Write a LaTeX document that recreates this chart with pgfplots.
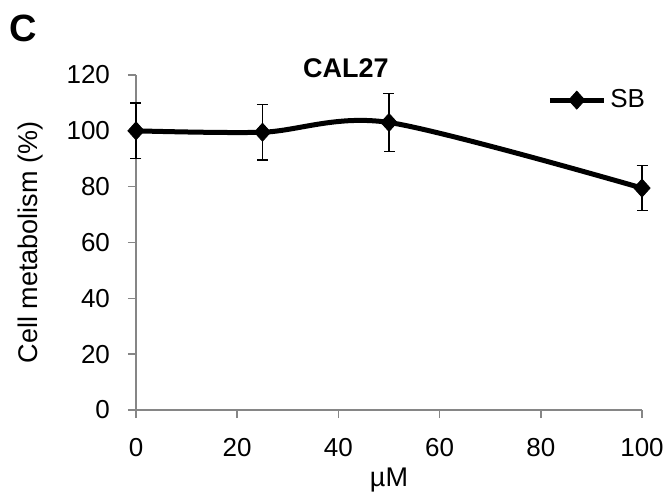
\documentclass[border=0pt]{standalone}
\usepackage{fontspec}
\setmainfont{Liberation Sans}
\usepackage{pgfplots}
\pgfplotsset{compat=1.18}
\definecolor{axgray}{HTML}{868686}

\begin{document}
\begin{tikzpicture}
  \useasboundingbox (-68pt,-44.5pt) rectangle (267pt,205pt);
  \begin{axis}[
    at={(0,0)}, anchor=south west,
    scale only axis,
    width=253pt, height=167.5pt,
    xmin=0, xmax=100, ymin=0, ymax=120,
    xtick={0,20,...,100}, ytick={0,20,...,120},
    axis x line*=bottom, axis y line*=left,
    axis line style={axgray, line width=0.8pt},
    tick style={axgray, line width=0.8pt},
    tick align=outside, major tick length=4pt,
    ticklabel style={font=\fontsize{13}{15}\selectfont},
    yticklabel style={xshift=-5.5pt},
    xticklabel style={yshift=-6.5pt},
    label style={font=\fontsize{13.5}{16}\selectfont},
    /pgf/number format/assume math mode=true,
    xlabel={µM}, ylabel={Cell metabolism (\%)},
    xlabel style={yshift=1pt},
    ylabel style={yshift=5pt},
    clip=false,
    legend style={at={(axis cs:81.2,111)}, anchor=west, draw=none, fill=none,
      font=\fontsize{13}{15}\selectfont, inner sep=0pt},
    legend cell align=left,
    legend image code/.code={
      \draw[black, line width=2.5pt] (0pt,0pt) -- (27pt,0pt);
      \draw[black, mark=diamond*, mark size=4.5pt,
        mark options={solid, line width=0.4pt, xscale=1.2}]
        plot coordinates {(13.5pt,0pt)};
    },
  ]
    \addplot[black, line width=2.5pt, smooth, mark=diamond*, mark size=4.5pt,
      mark options={solid, line width=0.4pt, xscale=1.2},
      error bars/.cd, y dir=both, y explicit,
      error bar style={line width=0.7pt, black},
      error mark options={rotate=90, mark size=2.75pt, line width=0.7pt, black}]
      coordinates {
        (0,100) +- (0,10)
        (25,99.5) +- (0,10)
        (50,103) +- (0,10.3)
        (100,79.5) +- (0,8)
      };
    \addlegendentry{SB}
  \end{axis}
  \node[font=\bfseries\fontsize{19}{21}\selectfont] at (-56.5pt,191pt) {C};
  \node[font=\bfseries\fontsize{13.5}{15}\selectfont] at (105pt,171pt) {CAL27};
\end{tikzpicture}
\end{document}
